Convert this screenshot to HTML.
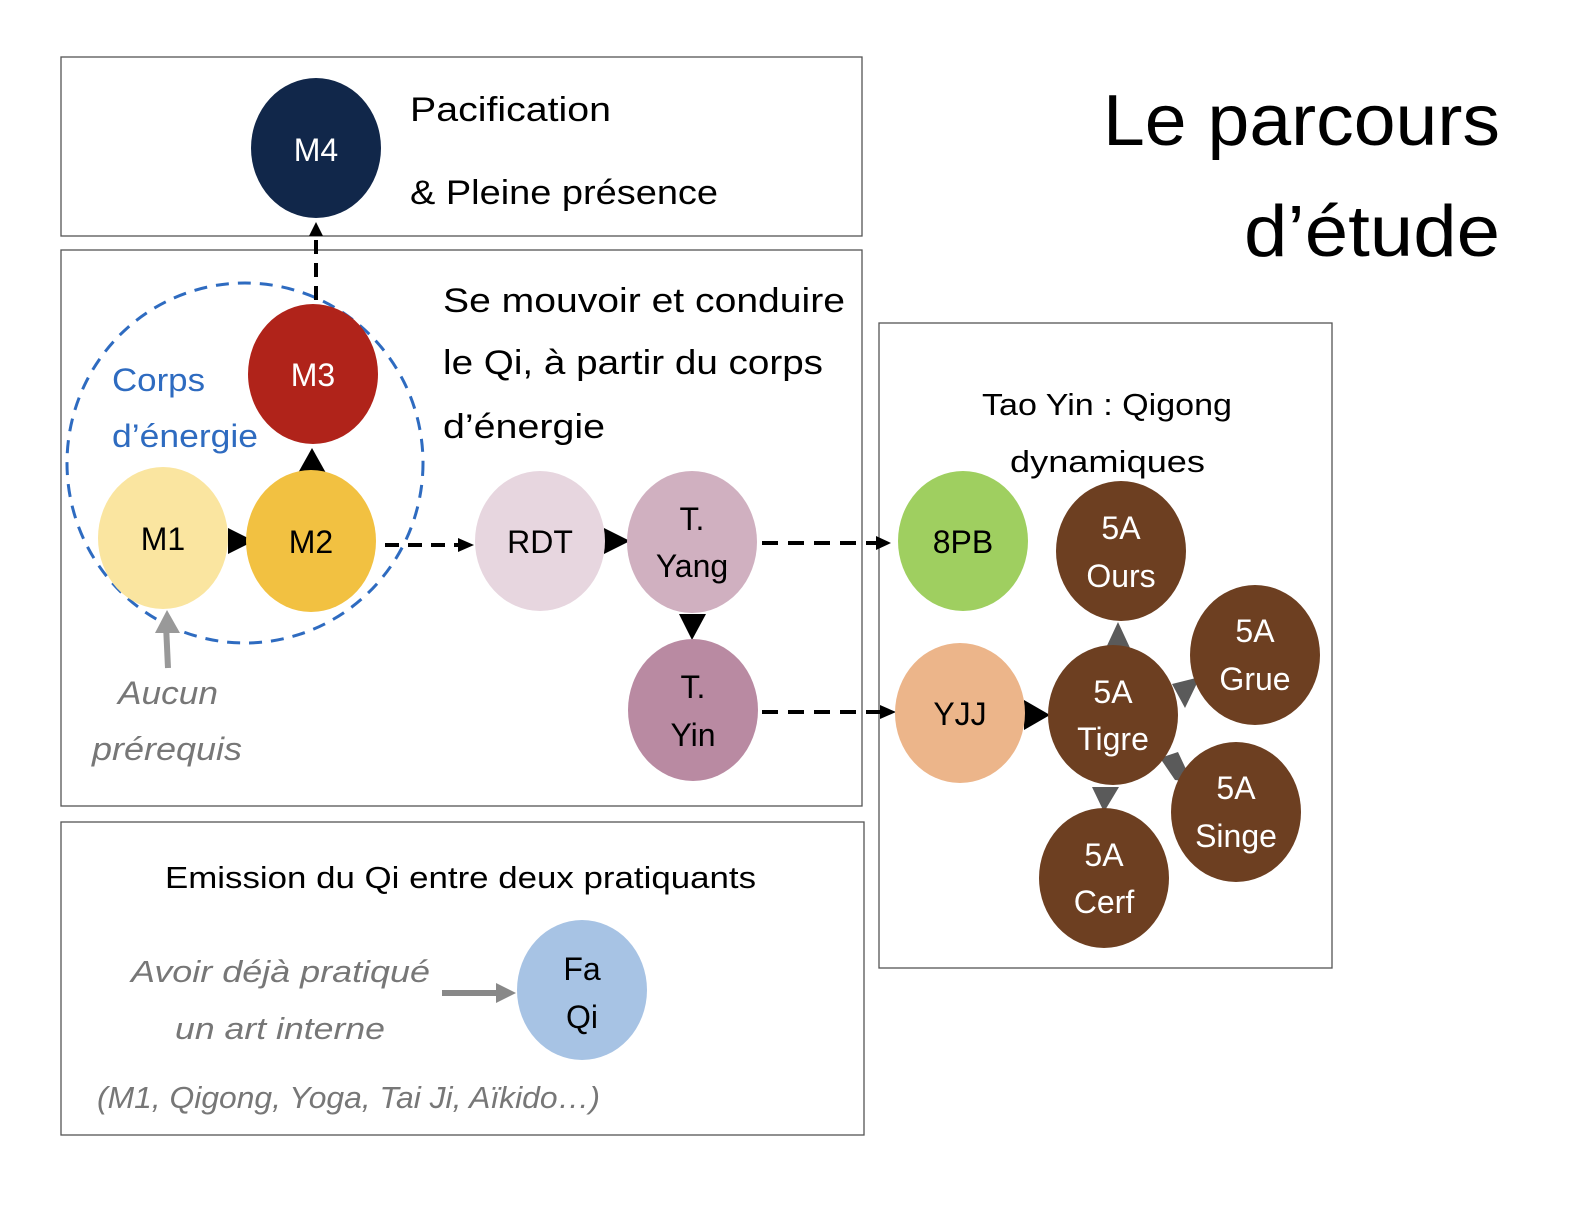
<!DOCTYPE html>
<html><head><meta charset="utf-8"><style>
html,body{margin:0;padding:0;background:#fff}
svg text{font-family:"Liberation Sans",sans-serif}
</style></head><body>
<svg width="1582" height="1224" viewBox="0 0 1582 1224" xmlns="http://www.w3.org/2000/svg">
<g fill="none" stroke="#555" stroke-width="1.3">
<rect x="61" y="57" width="801" height="179"/>
<rect x="61" y="250" width="801" height="556"/>
<rect x="61" y="822" width="803" height="313"/>
<rect x="879" y="323" width="453" height="645"/>
</g>
<g>
<text x="1103" y="145" font-size="72" fill="#000" textLength="397" lengthAdjust="spacingAndGlyphs">Le parcours</text>
<text x="1244" y="256" font-size="72" fill="#000" textLength="256" lengthAdjust="spacingAndGlyphs">d’étude</text>

<text x="410" y="121" font-size="34" fill="#000" textLength="201" lengthAdjust="spacingAndGlyphs">Pacification</text>
<text x="410" y="204" font-size="34" fill="#000" textLength="308" lengthAdjust="spacingAndGlyphs">&amp; Pleine présence</text>
<text x="443" y="312" font-size="34" fill="#000" textLength="402" lengthAdjust="spacingAndGlyphs">Se mouvoir et conduire</text>
<text x="443" y="374" font-size="34" fill="#000" textLength="380" lengthAdjust="spacingAndGlyphs">le Qi, à partir du corps</text>
<text x="443" y="438" font-size="34" fill="#000" textLength="162" lengthAdjust="spacingAndGlyphs">d’énergie</text>
<text x="112" y="391" font-size="32" fill="#2e6bc0" textLength="93" lengthAdjust="spacingAndGlyphs">Corps</text>
<text x="112" y="447" font-size="32" fill="#2e6bc0" textLength="146" lengthAdjust="spacingAndGlyphs">d’énergie</text>
<text x="118" y="704" font-size="32" fill="#777" font-style="italic" textLength="100" lengthAdjust="spacingAndGlyphs">Aucun</text>
<text x="92" y="760" font-size="32" fill="#777" font-style="italic" textLength="150" lengthAdjust="spacingAndGlyphs">prérequis</text>
<text x="982" y="415" font-size="31" fill="#000" textLength="250" lengthAdjust="spacingAndGlyphs">Tao Yin : Qigong</text>
<text x="1010" y="472" font-size="31" fill="#000" textLength="195" lengthAdjust="spacingAndGlyphs">dynamiques</text>
<text x="165" y="888" font-size="31" fill="#000" textLength="591" lengthAdjust="spacingAndGlyphs">Emission du Qi entre deux pratiquants</text>
<text x="131" y="982" font-size="31" fill="#777" font-style="italic" textLength="299" lengthAdjust="spacingAndGlyphs">Avoir déjà pratiqué</text>
<text x="175" y="1039" font-size="31" fill="#777" font-style="italic" textLength="210" lengthAdjust="spacingAndGlyphs">un art interne</text>
<text x="97" y="1108" font-size="31" fill="#777" font-style="italic" textLength="503" lengthAdjust="spacingAndGlyphs">(M1, Qigong, Yoga, Tai Ji, Aïkido…)</text>
</g>

<ellipse cx="245" cy="463" rx="178" ry="180" fill="none" stroke="#2e6bc0" stroke-width="3" stroke-dasharray="13,9"/>

<line x1="316" y1="300" x2="316" y2="236" stroke="#000" stroke-width="4" stroke-dasharray="14,9"/>
<path d="M309,236 L316,222 L323,236z" fill="#000"/>
<line x1="385" y1="545" x2="460" y2="545" stroke="#000" stroke-width="4" stroke-dasharray="14,9"/>
<path d="M458,538 L474,545 L458,552z" fill="#000"/>
<line x1="762" y1="543" x2="878" y2="543" stroke="#000" stroke-width="4" stroke-dasharray="16,10"/>
<path d="M876,536 L891,543 L876,550z" fill="#000"/>
<line x1="762" y1="712" x2="882" y2="712" stroke="#000" stroke-width="4" stroke-dasharray="16,10"/>
<path d="M880,705 L896,712 L880,719z" fill="#000"/>
<path d="M228,528 L254,541 L228,554z" fill="#000"/>
<path d="M298,473 L312,448 L326,473z" fill="#000"/>
<path d="M604,528 L630,541 L604,554z" fill="#000"/>
<path d="M679,614 L706,614 L692,640z" fill="#000"/>
<path d="M1024,700 L1050,715 L1024,730z" fill="#000"/>
<line x1="168" y1="668" x2="166" y2="625" stroke="#999" stroke-width="6"/>
<path d="M155,633 L167,610 L180,633z" fill="#999"/>
<line x1="442" y1="993" x2="500" y2="993" stroke="#888" stroke-width="6"/>
<path d="M496,983 L516,993 L496,1003z" fill="#888"/>
<g fill="#5a5a5a">
<path d="M1105,650 L1118,622 L1131,650z"/>
<path d="M1172,684 L1200,677 L1185,708z"/>
<path d="M1160,758 L1175,780 L1192,782 L1178,752z"/>
<path d="M1092,787 L1119,787 L1104,812z"/>
</g>

<g font-size="32" text-anchor="middle">
<ellipse cx="316" cy="148" rx="65" ry="70" fill="#11274a"/><text x="316" y="161" fill="#fff">M4</text>
<ellipse cx="313" cy="374" rx="65" ry="70" fill="#b0231a"/><text x="313" y="386" fill="#fff">M3</text>
<ellipse cx="163" cy="538" rx="65" ry="71" fill="#fae5a0"/><text x="163" y="550" fill="#000">M1</text>
<ellipse cx="311" cy="541" rx="65" ry="71" fill="#f2c141"/><text x="311" y="553" fill="#000">M2</text>
<ellipse cx="540" cy="541" rx="65" ry="70" fill="#e7d6df"/><text x="540" y="553" fill="#000">RDT</text>
<ellipse cx="692" cy="542" rx="65" ry="71" fill="#d0b0c0"/><text x="692" y="530" fill="#000">T.</text><text x="692" y="577" fill="#000">Yang</text>
<ellipse cx="693" cy="710" rx="65" ry="71" fill="#b98aa2"/><text x="693" y="698" fill="#000">T.</text><text x="693" y="746" fill="#000">Yin</text>
<ellipse cx="963" cy="541" rx="65" ry="70" fill="#9fcf60"/><text x="963" y="553" fill="#000">8PB</text>
<ellipse cx="960" cy="713" rx="65" ry="70" fill="#ecb58a"/><text x="960" y="725" fill="#000">YJJ</text>
<g fill="#6d3f21">
<ellipse cx="1121" cy="551" rx="65" ry="70"/>
<ellipse cx="1113" cy="715" rx="65" ry="70"/>
<ellipse cx="1255" cy="655" rx="65" ry="70"/>
<ellipse cx="1236" cy="812" rx="65" ry="70"/>
<ellipse cx="1104" cy="878" rx="65" ry="70"/>
</g>
<g fill="#fff">
<text x="1121" y="539">5A</text><text x="1121" y="587">Ours</text>
<text x="1113" y="703">5A</text><text x="1113" y="750">Tigre</text>
<text x="1255" y="642">5A</text><text x="1255" y="690">Grue</text>
<text x="1236" y="799">5A</text><text x="1236" y="847">Singe</text>
<text x="1104" y="866">5A</text><text x="1104" y="913">Cerf</text>
</g>
<ellipse cx="582" cy="990" rx="65" ry="70" fill="#a7c3e4"/><text x="582" y="980" fill="#000">Fa</text><text x="582" y="1028" fill="#000">Qi</text>
</g>
</svg>
</body></html>
